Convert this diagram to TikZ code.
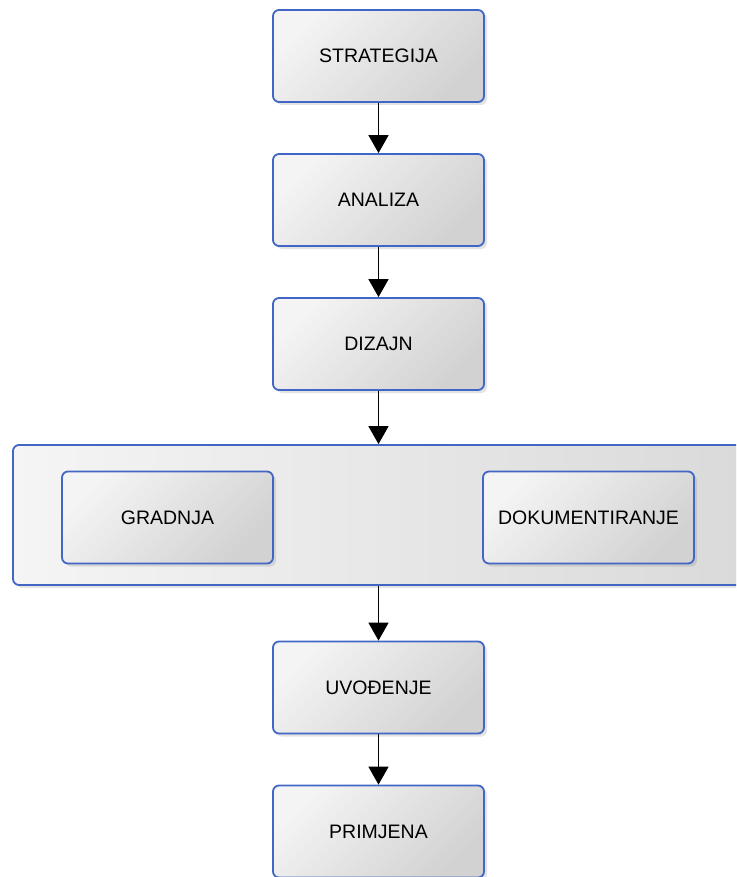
\documentclass[tikz,border=0pt]{standalone}
\usepackage{fontspec}
\setmainfont{Liberation Sans}
\usetikzlibrary{arrows.meta,shadows}
\definecolor{bordblue}{RGB}{66,102,196}
\definecolor{lightfill}{RGB}{244,244,244}
\definecolor{darkfill}{RGB}{210,210,210}
\tikzset{
  stepbox/.style={draw=bordblue, line width=1.8pt, rounded corners=6pt,
    minimum width=211pt, minimum height=92pt, inner sep=0pt,
    top color=lightfill, bottom color=darkfill, shading angle=45,
    drop shadow={opacity=0.22, shadow xshift=3pt, shadow yshift=-3pt},
    font=\fontsize{19.5}{22}\selectfont},
  groupbox/.style={draw=bordblue, line width=1.8pt, rounded corners=6pt,
    minimum width=760pt, minimum height=140pt, inner sep=0pt,
    left color=white!96!black, right color=white!85!black,
    drop shadow={opacity=0.2, shadow xshift=3pt, shadow yshift=-3pt}},
  flow/.style={line width=1.6pt, -{Triangle[width=20pt,length=18pt]}}
}
\begin{document}
\begin{tikzpicture}[x=1pt,y=-1pt]
\useasboundingbox (0,0) rectangle (736,877);
\clip (0,0) rectangle (736,877);
\fill[white] (0,0) rectangle (736,877);
\node[stepbox] (strategija) at (378.5,56) {STRATEGIJA};
\node[stepbox] (analiza) at (378.5,200) {ANALIZA};
\node[stepbox] (dizajn) at (378.5,344) {DIZAJN};
\node[groupbox] (grupa) at (393,515) {};
\node[stepbox] (gradnja) at (167.5,517.5) {GRADNJA};
\node[stepbox] (dokumentiranje) at (588.5,517.5) {DOKUMENTIRANJE};
\node[stepbox] (uvodjenje) at (378.5,687.5) {UVOĐENJE};
\node[stepbox] (primjena) at (378.5,831.5) {PRIMJENA};
\draw[flow] (strategija.south) -- (analiza.north);
\draw[flow] (analiza.south) -- (dizajn.north);
\draw[flow] (dizajn.south) -- (dizajn.south |- grupa.north);
\draw[flow] (grupa.south -| uvodjenje.north) -- (uvodjenje.north);
\draw[flow] (uvodjenje.south) -- (primjena.north);
\end{tikzpicture}
\end{document}
